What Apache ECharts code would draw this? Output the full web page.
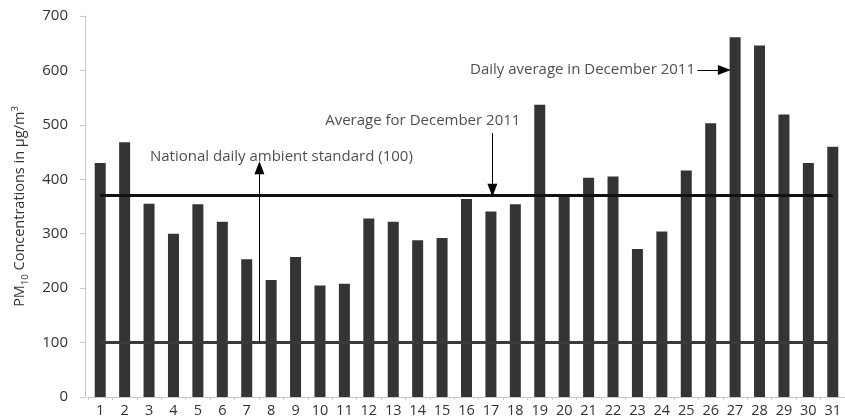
<!DOCTYPE html>
<html>
<head>
<meta charset="utf-8">
<script src="https://cdn.jsdelivr.net/npm/echarts@6/dist/echarts.min.js"></script>
<style>html,body{margin:0;padding:0;background:#fff}#c{width:845px;height:419px}</style>
</head>
<body>
<div id="c"></div>
<script>
var days = ['1','2','3','4','5','6','7','8','9','10','11','12','13','14','15','16','17','18','19','20','21','22','23','24','25','26','27','28','29','30','31'];
var pm10 = [430, 468, 355, 300, 354, 322, 253, 215, 257, 205, 208, 328, 322, 288, 292, 364, 341, 354, 537, 369, 403, 405, 272, 304, 416, 503, 661, 646, 519, 430, 460];
var yTicks = [0, 100, 200, 300, 400, 500, 600, 700];
var nationalStandard = 100;
var monthAverage = 370;
var notes = [
  {name: 'National daily ambient standard (100)', value: [8.42, 441]},
  {name: 'Average for December 2011', value: [14.21, 507]},
  {name: 'Daily average in December 2011', value: [20.75, 602]}
];
var arrows = [
  [[7.52, nationalStandard], [7.52, 421]],
  [[17.06, 485], [17.06, 380]],
  [[25.46, 601], [26.56, 601]]
];

var font = 'Open Sans';
var chart = echarts.init(document.getElementById('c'));
chart.setOption({
  animation: false,
  textStyle: {fontFamily: font},
  grid: {left: 88, top: 16, bottom: 22, width: 762},
  xAxis: [{
    type: 'category',
    data: days,
    axisLine: {lineStyle: {color: '#c8c8c8', width: 1}},
    axisTick: {show: true, length: 3, lineStyle: {color: '#c8c8c8'}},
    axisLabel: {color: '#333', fontSize: 14.5, margin: 6, interval: 0, fontFamily: font}
  }, {
    type: 'value', min: 0.5, max: 31.5, show: false
  }],
  yAxis: [{
    type: 'value',
    min: 0, max: 700, interval: 100,
    offset: 3,
    axisLine: {show: true, lineStyle: {color: '#c8c8c8', width: 1}},
    axisTick: {show: true, length: 5, lineStyle: {color: '#c8c8c8'}},
    splitLine: {show: false},
    axisLabel: {color: '#333', fontSize: 15, margin: 17, fontFamily: font,
      customValues: yTicks},
    name: '{n|PM}{sub|10}{n| Concentrations in µg/m}{sup|3}',
    nameLocation: 'middle',
    nameGap: 55,
    nameTextStyle: {
      color: '#333', fontFamily: font,
      rich: {
        n: {fontSize: 14.5, color: '#333', fontFamily: font, lineHeight: 20},
        sub: {fontSize: 9.5, color: '#333', fontFamily: font, verticalAlign: 'bottom', lineHeight: 20},
        sup: {fontSize: 9.5, color: '#333', fontFamily: font, verticalAlign: 'top', lineHeight: 20}
      }
    }
  }],
  series: [{
    type: 'bar',
    data: pm10,
    barWidth: 11,
    itemStyle: {color: '#343434'},
    z: 2
  }, {
    type: 'scatter',
    xAxisIndex: 1,
    data: notes,
    symbolSize: 0,
    silent: true,
    z: 5,
    label: {
      show: true, position: 'inside', formatter: '{b}',
      color: '#222', fontSize: 15, fontFamily: font
    },
    markLine: {
      silent: true,
      animation: false,
      symbol: ['none', 'none'],
      label: {show: false},
      z: 4,
      data: [
        [{coord: [1, nationalStandard], lineStyle: {color: '#3a3a3a', width: 3, type: 'solid'}}, {coord: [31, nationalStandard]}],
        [{coord: [1, monthAverage], lineStyle: {color: '#111', width: 3, type: 'solid'}}, {coord: [31, monthAverage]}]
      ].concat(arrows.map(function (a) {
        return [{coord: a[0], symbol: 'none', lineStyle: {color: '#000', width: 1, type: 'solid'}},
                {coord: a[1], symbol: 'triangle', symbolSize: [10, 13]}];
      }))
    }
  }]
});
</script>
</body>
</html>
